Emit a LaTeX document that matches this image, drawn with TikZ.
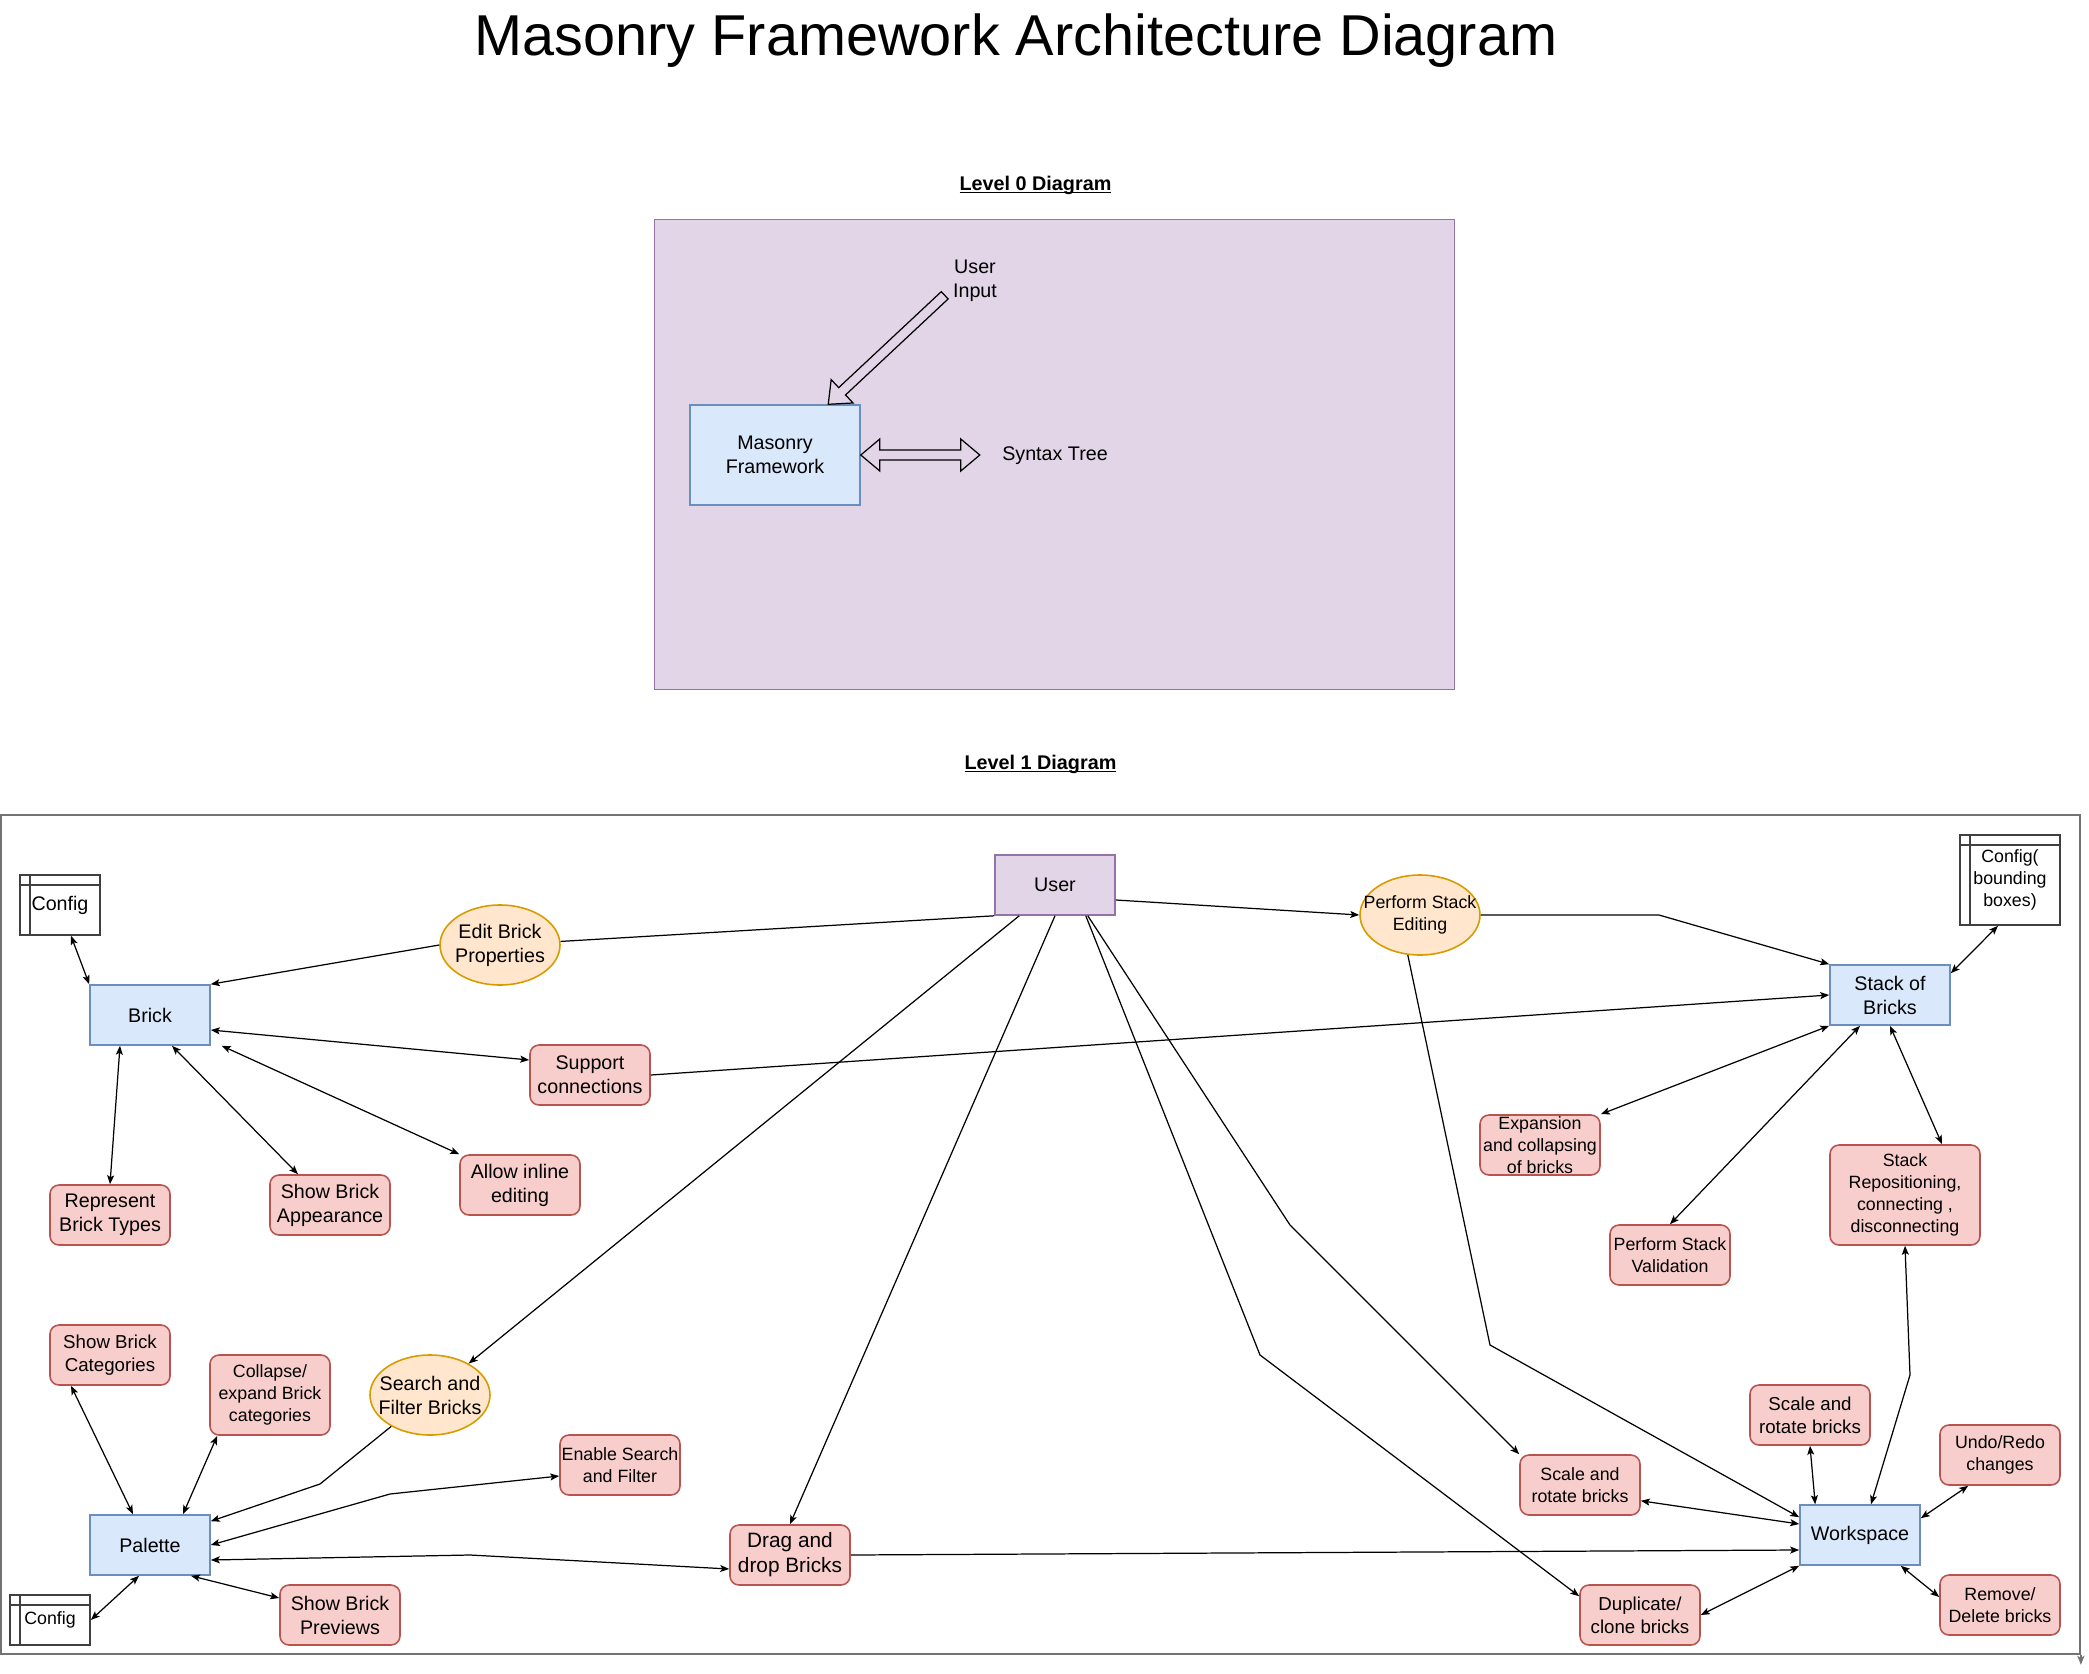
\documentclass[tikz,border=0pt]{standalone}
\usepackage{fontspec}
\setmainfont{Liberation Sans}
\usetikzlibrary{arrows.meta, shapes.geometric}

\definecolor{blufill}{HTML}{DAE8FC}
\definecolor{bluline}{HTML}{6C8EBF}
\definecolor{redfill}{HTML}{F8CECC}
\definecolor{redline}{HTML}{B85450}
\definecolor{orafill}{HTML}{FFE6CC}
\definecolor{oraline}{HTML}{D79B00}
\definecolor{purfill}{HTML}{E1D5E7}
\definecolor{purline}{HTML}{9673A6}

\newcommand{\fbase}{\fontsize{5.6}{6.83}\selectfont}
\newcommand{\fmid}{\fontsize{5.32}{6.54}\selectfont}
\newcommand{\fsmall}{\fontsize{5.06}{6.26}\selectfont}
\newcommand{\fdrag}{\fontsize{5.92}{7.11}\selectfont}
\newcommand{\ftitle}{\fontsize{16.4}{19.7}\selectfont}
\newcommand{\flevel}{\fontsize{5.63}{6.8}\selectfont\bfseries}
\newcommand{\lvlul}[1]{\setbox0\hbox{#1}\rlap{\rule[-0.85pt]{\wd0}{0.4pt}}\box0}

\begin{document}
\begin{tikzpicture}[<->,
					>={Stealth[length=0.09cm, width=0.07cm, inset=0.02cm]},
					line width=0.35pt,
					proc/.style={rectangle, draw=bluline, fill=blufill, line width=0.45pt, minimum width=1.2cm, minimum height=0.6cm, inner sep=0pt, align=center, font=\fbase},
					task/.style={rectangle, rounded corners=0.09cm, draw=redline, fill=redfill, line width=0.45pt, minimum width=1.2cm, minimum height=0.6cm, inner sep=0pt, align=center, font=\fsmall},
					func/.style={ellipse, draw=oraline, fill=orafill, line width=0.45pt, minimum width=1.2cm, minimum height=0.8cm, inner sep=0pt},
					actor/.style={rectangle, draw=purline, fill=purfill, line width=0.45pt, inner sep=0pt, align=center, font=\fbase},
					store/.style={rectangle, draw=black!75, fill=white, line width=0.45pt, inner sep=0pt, align=center,
						path picture={\draw[-, black!75, line width=0.45pt]
							([xshift=0.1cm]path picture bounding box.north west) -- ([xshift=0.1cm]path picture bounding box.south west)
							([yshift=-0.1cm]path picture bounding box.north west) -- ([yshift=-0.1cm]path picture bounding box.north east);}},
					intext/.style={align=center, font=\fbase},
					blockarrow/.style={-, draw=black, line width=0.35pt, line join=miter},
					frame/.style={-, draw=black!55, line width=0.5pt}]

	\useasboundingbox (0,0) rectangle (20.89,-16.74);

	% titles
	\node[anchor=base, font=\ftitle] (title) at (10.16,-0.55) {Masonry Framework Architecture Diagram};
	\node[anchor=base, font=\flevel] (lvlzero) at (10.355,-1.904) {\lvlul{Level 0 Diagram}};
	\node[anchor=base, font=\flevel] (lvlone) at (10.405,-7.693) {\lvlul{Level 1 Diagram}};

	% level 0
	\node[actor, minimum width=8.0cm, minimum height=4.7cm] (lvzero) at (10.546,-4.545) {};
	\node[proc, minimum width=1.7cm, minimum height=1.0cm] (masonry) at (7.75,-4.55) {Masonry\\Framework};
	\node[intext] (userin) at (9.75,-2.805) {User\\Input};
	\node[intext] (syntax) at (10.55,-4.555) {Syntax Tree};
	\coordinate (uitail) at (9.447,-2.953);
	\draw[blockarrow, shift={(uitail)}, rotate=223.1] (0,0.05) -- (1.405,0.05) -- (1.405,0.16) -- (1.595,0)
		-- (1.405,-0.16) -- (1.405,-0.05) -- (0,-0.05) -- cycle;
	\draw[blockarrow, shift={(masonry.east)}] (0,0) -- (0.19,0.16) -- (0.19,0.05) -- (1.0,0.05) -- (1.0,0.16) -- (1.19,0)
		-- (1.0,-0.16) -- (1.0,-0.05) -- (0.19,-0.05) -- (0.19,-0.16) -- cycle;

	% level 1
	\node[frame, draw, inner sep=0pt, minimum width=20.79cm, minimum height=8.39cm] (lvone) at (10.405,-12.345) {};
	\draw[frame, ->] (lvone.south east) -- ++(0,-0.1);

	\node[actor, minimum width=1.2cm, minimum height=0.6cm] (user) at (10.55,-8.85) {User};
	\node[store, minimum width=0.8cm, minimum height=0.6cm, font=\fbase] (cfgA) at (0.60,-9.05) {Config};
	\node[proc] (brick) at (1.50,-10.15) {Brick};
	\node[func, label={[intext]center:Edit Brick\\Properties}] (editp) at (5.00,-9.45) {};
	\node[task, font=\fbase] (support) at (5.90,-10.75) {Support\\connections};
	\node[task, font=\fbase] (reptype) at (1.10,-12.15) {Represent\\Brick Types};
	\node[task, font=\fbase] (showapp) at (3.30,-12.05) {Show Brick\\Appearance};
	\node[task, font=\fbase] (inline) at (5.20,-11.85) {Allow inline\\editing};

	\node[task, font=\fmid] (showcat) at (1.10,-13.55) {Show Brick\\Categories};
	\node[task, minimum height=0.8cm] (collapse) at (2.70,-13.95) {Collapse/\\expand Brick\\categories};
	\node[func, label={[intext]center:Search and\\Filter Bricks}] (search) at (4.30,-13.95) {};
	\node[task] (enable) at (6.20,-14.65) {Enable Search\\and Filter};
	\node[proc] (palette) at (1.50,-15.45) {Palette};
	\node[store, minimum width=0.8cm, minimum height=0.5cm, font=\fsmall] (cfgB) at (0.50,-16.20) {Config};
	\node[task, font=\fbase] (previews) at (3.40,-16.15) {Show Brick\\Previews};
	\node[task, font=\fdrag] (drag) at (7.90,-15.55) {Drag and\\drop Bricks};

	\node[func, label={[intext, font=\fsmall]center:Perform Stack\\Editing}] (pse) at (14.20,-9.15) {};
	\node[proc] (stack) at (18.90,-9.95) {Stack of\\Bricks};
	\node[store, minimum width=1.0cm, minimum height=0.9cm, font=\fsmall] (cfgC) at (20.10,-8.80) {Config(\\bounding\\boxes)};
	\node[task] (expand) at (15.40,-11.45) {Expansion\\and collapsing\\of bricks};
	\node[task] (valid) at (16.70,-12.55) {Perform Stack\\Validation};
	\node[task, minimum width=1.5cm, minimum height=1.0cm] (repos) at (19.05,-11.95) {Stack\\Repositioning,\\connecting ,\\disconnecting};

	\node[task, font=\fmid] (scaleA) at (18.10,-14.15) {Scale and\\rotate bricks};
	\node[task] (undo) at (20.00,-14.55) {Undo/Redo\\changes};
	\node[task] (scaleB) at (15.80,-14.85) {Scale and\\rotate bricks};
	\node[proc] (work) at (18.60,-15.35) {Workspace};
	\node[task, font=\fmid] (dup) at (16.40,-16.15) {Duplicate/\\clone bricks};
	\node[task] (remove) at (20.00,-16.05) {Remove/\\Delete bricks};

	% brick side
	\draw ([xshift=0.11cm]cfgA.south) -- (brick.north west);
	\draw[-] (user.south west) -- (editp);
	\draw[->] (editp.west) -- (brick.north east);
	\draw ([yshift=-0.15cm]brick.east) -- ([yshift=0.15cm]support.west);
	\draw[->] (support.east) -- (stack.west);
	\draw ([xshift=-0.3cm]brick.south) -- (reptype.north);
	\draw ([xshift=0.22cm]brick.south) -- ([xshift=-0.32cm]showapp.north);
	\draw ([xshift=0.11cm]brick.south east) -- (inline.north west);

	% from the user
	\draw[->] ([xshift=0.25cm]user.south west) -- (search);
	\draw[->] (user.south) -- (drag.north);
	\draw[->] ([xshift=-0.3cm]user.south east) -- (12.60,-13.55) -- ([yshift=-0.12cm]dup.north west);
	\draw[->] ([xshift=-0.28cm]user.south east) -- (12.90,-12.25) -- (scaleB.north west);
	\draw[->] ([yshift=-0.15cm]user.east) -- (pse.west);

	% stack side
	\draw[->] (pse.east) -- (16.59,-9.15) -- (stack.north west);
	\draw[->] (pse.253) -- (14.90,-13.45) -- ([yshift=-0.13cm]work.north west);
	\draw ([yshift=-0.09cm]stack.north east) -- ([xshift=-0.12cm]cfgC.south);
	\draw (stack.south west) -- (expand.north east);
	\draw ([xshift=-0.3cm]stack.south) -- (valid.north);
	\draw (stack.south) -- ([xshift=0.37cm]repos.north);

	% workspace
	\draw ([xshift=0.11cm]work.north) -- (19.10,-13.75) -- (repos.south);
	\draw (scaleA.south) -- ([xshift=0.16cm]work.north west);
	\draw ([xshift=0.29cm]undo.south west) -- ([yshift=-0.14cm]work.north east);
	\draw ([xshift=-0.2cm]work.south east) -- ([yshift=0.08cm]remove.west);
	\draw ([yshift=0.15cm]scaleB.south east) -- ([yshift=0.11cm]work.west);
	\draw (dup.east) -- (work.south west);
	\draw[->] (drag.east) -- ([yshift=-0.15cm]work.west);

	% palette
	\draw ([yshift=-0.15cm]palette.east) -- (4.70,-15.55) -- ([yshift=-0.14cm]drag.west);
	\draw (palette.east) -- (3.90,-14.94) -- ([yshift=-0.11cm]enable.west);
	\draw[->] (search.219) -- (3.20,-14.84) -- ([yshift=-0.07cm]palette.north east);
	\draw ([xshift=-0.17cm]palette.north) -- ([xshift=-0.39cm]showcat.south);
	\draw ([xshift=0.33cm]palette.north) -- ([xshift=0.08cm]collapse.south west);
	\draw ([xshift=-0.11cm]palette.south) -- (cfgB.east);
	\draw ([xshift=0.41cm]palette.south) -- ([yshift=0.17cm]previews.west);
\end{tikzpicture}
\end{document}
